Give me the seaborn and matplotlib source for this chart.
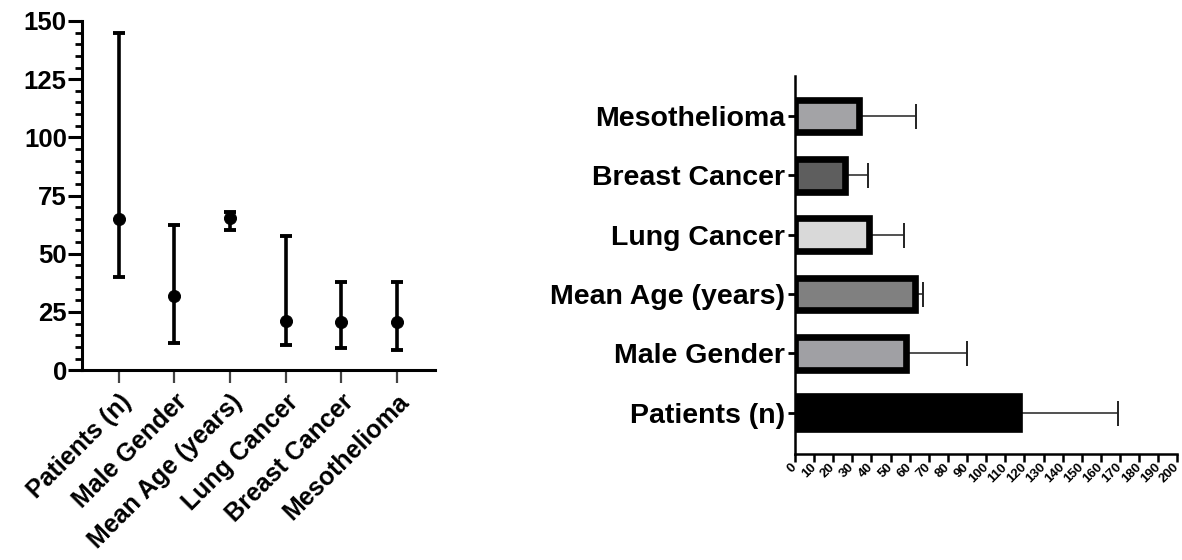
import numpy as np
import pandas as pd
import matplotlib
matplotlib.use("Agg")
import matplotlib.pyplot as plt
from matplotlib.ticker import MultipleLocator
import seaborn as sns

# Left panel: median with range for each characteristic
left_categories = ["Patients (n)", "Male Gender", "Mean Age (years)",
                   "Lung Cancer", "Breast Cancer", "Mesothelioma"]
left_center = [65, 32, 65.5, 21, 20.5, 20.5]
left_low = [40, 11.5, 60, 11, 9.7, 8.6]
left_high = [145, 62.5, 68, 57.5, 38, 38]

# Right panel: mean with upper error for each characteristic
right_categories = ["Mesothelioma", "Breast Cancer", "Lung Cancer",
                    "Mean Age (years)", "Male Gender", "Patients (n)"]
right_mean = [33.5, 26, 38.5, 63, 58, 117]
right_upper = [63.5, 38, 57, 67, 90, 169]
right_colors = ["#a3a3a7", "#5e5e5e", "#d9d9d9", "#808080", "#a0a0a4", "#000000"]
right_ticks = list(range(0, 201, 10))

sns.set_theme(style="ticks")
plt.rcParams["font.family"] = ["Liberation Sans", "DejaVu Sans"]
plt.rcParams["font.weight"] = "bold"

fig = plt.figure(figsize=(11.82, 5.60), dpi=100)

# ---------------- left: range plot ----------------
ax1 = fig.add_axes([0.0694, 0.339, 0.2986, 0.6235])
df_left = pd.DataFrame({"cat": left_categories, "center": left_center,
                        "low": left_low, "high": left_high})
sns.scatterplot(data=df_left, x="cat", y="center", ax=ax1, color="black",
                s=75, edgecolor="black", zorder=3)
xpos = np.arange(len(left_categories))
ax1.errorbar(xpos, df_left["center"],
             yerr=[df_left["center"] - df_left["low"], df_left["high"] - df_left["center"]],
             fmt="none", ecolor="black", elinewidth=2.6, capsize=4.5, capthick=2.8)
ax1.set_xlim(-0.66, 5.68)
ax1.set_ylim(0, 150)
ax1.yaxis.set_major_locator(MultipleLocator(25))
ax1.yaxis.set_minor_locator(MultipleLocator(5))
ax1.set_xlabel("")
ax1.set_ylabel("")
for s in ["top", "right"]:
    ax1.spines[s].set_visible(False)
for s in ["left", "bottom"]:
    ax1.spines[s].set_linewidth(2.2)
    ax1.spines[s].set_color("black")
ax1.tick_params(axis="y", which="major", length=10, width=2.2, labelsize=18.5,
                colors="black", pad=1)
ax1.tick_params(axis="y", which="minor", length=5, width=2.0, colors="black")
ax1.tick_params(axis="x", which="major", length=9, width=1.6, colors="#444444",
                labelcolor="black", labelsize=18, pad=5)
for lab in ax1.get_yticklabels():
    lab.set_fontweight("bold")
for lab in ax1.get_xticklabels():
    lab.set_rotation(45)
    lab.set_ha("right")
    lab.set_rotation_mode("anchor")
    lab.set_fontweight("bold")

# ---------------- right: horizontal bars ----------------
ax2 = fig.add_axes([0.6726, 0.189, 0.3235, 0.675])
df_right = pd.DataFrame({"cat": right_categories, "mean": right_mean,
                         "upper": right_upper})
sns.barplot(data=df_right, x="mean", y="cat", hue="cat", palette=right_colors,
            orient="h", width=0.55, edgecolor="black", linewidth=4.8,
            legend=False, ax=ax2, zorder=2)
ypos = np.arange(len(right_categories))
ax2.errorbar(df_right["mean"], ypos,
             xerr=[np.zeros(len(ypos)), df_right["upper"] - df_right["mean"]],
             fmt="none", ecolor="#222222", elinewidth=1.1, capsize=9, capthick=1.4,
             zorder=1)
ax2.set_xlim(0, 200)
ax2.set_ylim(5.7, -0.67)
ax2.set_xticks(right_ticks)
ax2.set_xticklabels([str(t) for t in right_ticks])
ax2.set_xlabel("")
ax2.set_ylabel("")
for s in ["top", "right"]:
    ax2.spines[s].set_visible(False)
for s in ["left", "bottom"]:
    ax2.spines[s].set_linewidth(1.8)
    ax2.spines[s].set_color("black")
ax2.tick_params(axis="y", length=5, width=2.0, labelsize=20.5, colors="black", pad=2)
ax2.tick_params(axis="x", length=6, width=1.8, labelsize=9.5, colors="black", pad=2)
for lab in ax2.get_yticklabels():
    lab.set_fontweight("bold")
for lab in ax2.get_xticklabels():
    lab.set_rotation(45)
    lab.set_ha("right")
    lab.set_va("center")
    lab.set_rotation_mode("anchor")
    lab.set_fontweight("bold")

fig.savefig("out.png", dpi=100, facecolor="white")
